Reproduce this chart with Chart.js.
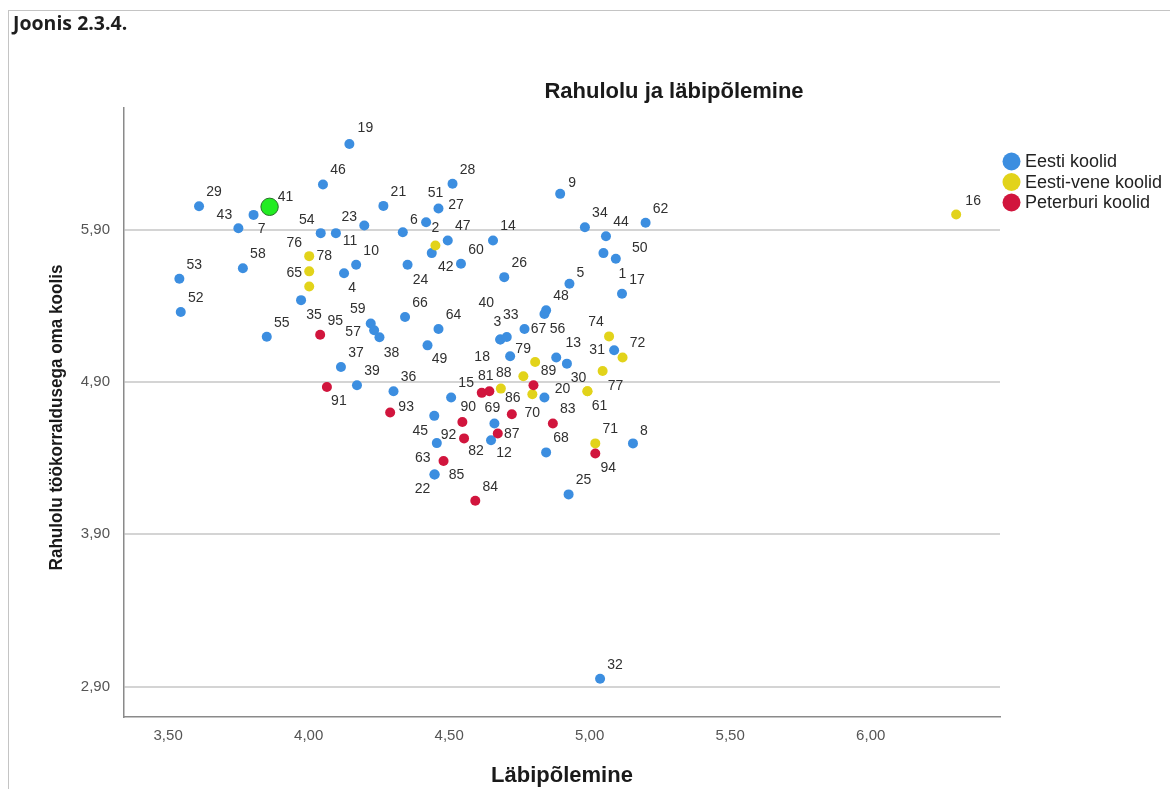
<!DOCTYPE html>
<html lang="et">
<head>
<meta charset="utf-8">
<title>Joonis 2.3.4.</title>
<script src="https://cdn.jsdelivr.net/npm/chart.js@4.4.1/dist/chart.umd.min.js"></script>
<style>
  html, body { margin: 0; padding: 0; background: #fff; }
  #wrap { position: relative; width: 1170px; height: 789px; overflow: hidden; background: #fff; }
  #frame { position: absolute; left: 8px; top: 10px; width: 1200px; height: 800px;
           border-top: 1px solid #c4c4c4; border-left: 1px solid #c4c4c4; }
  #caption { position: absolute; left: 13px; top: 9px; font: bold 19.5px "Open Sans", sans-serif; color: #1e1e1e; }
  #chart { position: absolute; left: 0; top: 0; }
</style>
</head>
<body>
<div id="wrap">
  <div id="frame"></div>
  <canvas id="chart" width="1170" height="789"></canvas>
  <div id="caption">Joonis 2.3.4.</div>
</div>
<script>
// --- andmed: Läbipõlemine (x) ja rahulolu töökorraldusega (y) ---
const estiId = ["19","46","29","7","43","54","11","23","21","6",
  "27","51","42","53","58","10","4","24","52","66",
  "55","35","59","57","38","64","49","37","39","36",
  "28","47","60","14","26","9","34","44","62","1",
  "50","17","5","48","56","3","40","33","67","18",
  "13","","31","15","20","69","45","12","68","8",
  "63","85","22","25","32"];
const estiX = [4.145,4.051,3.610,3.804,3.750,4.043,4.097,4.198,4.266,4.335,
  4.418,4.462,4.438,3.540,3.766,4.169,4.126,4.352,3.545,4.343,
  3.851,3.973,4.221,4.233,4.252,4.462,4.423,4.115,4.172,4.302,
  4.512,4.495,4.542,4.656,4.696,4.895,4.983,5.058,5.199,5.049,
  5.093,5.115,4.928,4.845,4.839,4.682,4.682,4.705,4.768,4.717,
  4.881,4.919,5.087,4.507,4.839,4.661,4.447,4.649,4.845,5.154,
  4.456,4.448,4.448,4.925,5.037];
const estiY = [6.464,6.197,6.055,5.998,5.910,5.878,5.878,5.928,6.057,5.884,
  5.950,6.040,5.747,5.579,5.648,5.670,5.615,5.670,5.360,5.327,
  5.198,5.438,5.284,5.240,5.194,5.248,5.141,4.999,4.879,4.840,
  6.202,5.830,5.677,5.830,5.589,6.136,5.917,5.858,5.946,5.747,
  5.710,5.480,5.546,5.371,5.347,5.179,5.179,5.196,5.248,5.069,
  5.061,5.021,5.109,4.798,4.798,4.628,4.678,4.518,4.438,4.497,
  4.499,4.293,4.293,4.162,2.951];

const veneId = ["2","76","65","78","88","","70","79","30","61","77","74","72","71","16"];
const veneX = [4.451,4.002,4.002,4.002,4.684,4.764,4.796,4.806,4.992,4.992,5.046,5.069,5.117,5.020,6.304];
const veneY = [5.797,5.727,5.627,5.528,4.857,4.938,4.820,5.032,4.840,4.840,4.973,5.200,5.061,4.497,6.000];

const peterId = ["95","91","93","81","","89","86","90","83","82","87","92","84","94"];
const peterX = [4.041,4.065,4.290,4.616,4.643,4.800,4.723,4.547,4.869,4.553,4.673,4.480,4.593,5.020];
const peterY = [5.211,4.868,4.700,4.829,4.840,4.879,4.689,4.638,4.628,4.530,4.562,4.381,4.120,4.431];

// esile tõstetud kool
const markId = ["41"];
const markX = [3.861];
const markY = [6.051];

const xTicks = [3.5, 4.0, 4.5, 5.0, 5.5, 6.0];
const yTicks = [2.9, 3.9, 4.9, 5.9];
const groupNames = ["Eesti koolid", "Eesti-vene koolid", "Peterburi koolid"];

// sildi nihe punktist (px), vaikimisi üles paremale
const labelShift = {
  "41":[16,-10], "7":[8,14], "43":[-14,-13], "54":[-14,-13], "11":[14,8], "23":[-15,-8],
  "6":[11,-12], "27":[30,-17], "51":[-3,-15], "42":[14,14], "4":[8,15], "24":[13,15],
  "35":[13,15], "59":[-13,-14], "57":[-21,2], "38":[12,16], "49":[12,14], "9":[12,-11],
  "1":[19,21], "50":[24,-11], "5":[11,-11], "56":[13,15], "3":[-3,-17], "40":[-14,-36],
  "33":[4,-22], "67":[14,0], "18":[-28,1], "13":[17,-14], "31":[-17,0], "20":[18,-8],
  "69":[-2,-15], "45":[-14,15], "63":[-14,15], "12":[13,13], "8":[11,-12], "85":[22,1],
  "22":[-12,15], "2":[0,-17], "76":[-15,-13], "65":[-15,2], "78":[15,-30], "88":[3,-15],
  "70":[0,19], "79":[-12,-13], "30":[-9,-13], "61":[12,15], "77":[13,15], "74":[-13,-14],
  "16":[17,-13], "91":[12,14], "93":[16,-5], "81":[4,-17], "86":[1,-16], "90":[6,-15],
  "82":[12,13], "87":[14,1], "92":[5,-26], "94":[13,15], "19":[16,-16]
};

const BLUE = "#3c8ee0", YELLOW = "#e2d31a", RED = "#d1153d";

const toPoints = (xs, ys) => xs.map((x, i) => ({ x: x, y: ys[i] }));
const comma = (v) => Number(v).toFixed(2).replace(".", ",");

const chartDecor = {
  id: "chartDecor",
  afterDatasetsDraw(chart) {
    const ctx = chart.ctx;
    ctx.save();
    ctx.font = "14px 'Liberation Sans', Arial, sans-serif";
    ctx.fillStyle = "#303030";
    ctx.textAlign = "center";
    ctx.textBaseline = "middle";
    chart.data.datasets.forEach((ds, i) => {
      const meta = chart.getDatasetMeta(i);
      meta.data.forEach((pt, j) => {
        const id = ds.ids[j];
        if (!id) return;
        const s = labelShift[id] || [15, -14];
        ctx.fillText(id, pt.x + s[0], pt.y + s[1]);
      });
    });
    ctx.restore();
  },
  afterDraw(chart) {
    const ctx = chart.ctx;
    const area = chart.chartArea;
    ctx.save();
    // pealkiri
    ctx.font = "bold 22px 'Liberation Sans', Arial, sans-serif";
    ctx.fillStyle = "#1a1a1a";
    ctx.textAlign = "center";
    ctx.textBaseline = "middle";
    ctx.fillText("Rahulolu ja läbipõlemine", 674, 92);
    // y-telje pealkiri (kitsam kiri nagu SPSS-is)
    ctx.save();
    ctx.translate(57, (area.top + area.bottom) / 2 + 5);
    ctx.rotate(-Math.PI / 2);
    ctx.scale(0.9, 1);
    ctx.font = "bold 19px 'Liberation Sans', Arial, sans-serif";
    ctx.fillText("Rahulolu töökorraldusega oma koolis", 0, 0);
    ctx.restore();
    // legend
    const cols = [BLUE, YELLOW, RED];
    ctx.font = "18px 'Liberation Sans', Arial, sans-serif";
    ctx.textAlign = "left";
    groupNames.forEach((name, k) => {
      const y = 161.5 + k * 20.5;
      ctx.beginPath();
      ctx.arc(1011.5, y, 9, 0, Math.PI * 2);
      ctx.fillStyle = cols[k];
      ctx.fill();
      ctx.fillStyle = "#222";
      ctx.fillText(name, 1025, y + 1);
    });
    ctx.restore();
  }
};

new Chart(document.getElementById("chart"), {
  type: "scatter",
  data: {
    datasets: [
      { label: "41", ids: markId, data: toPoints(markX, markY),
        backgroundColor: "#22ec22", borderColor: "#2b6e2b", borderWidth: 1, pointRadius: 8.7 },
      { label: groupNames[2], ids: peterId, data: toPoints(peterX, peterY),
        backgroundColor: RED, borderWidth: 0, pointRadius: 5 },
      { label: groupNames[1], ids: veneId, data: toPoints(veneX, veneY),
        backgroundColor: YELLOW, borderWidth: 0, pointRadius: 5 },
      { label: groupNames[0], ids: estiId, data: toPoints(estiX, estiY),
        backgroundColor: BLUE, borderWidth: 0, pointRadius: 5 }
    ]
  },
  options: {
    responsive: false,
    animation: false,
    devicePixelRatio: 1,
    layout: { padding: { top: 108, right: 170, left: 0, bottom: 0 } },
    plugins: { legend: { display: false }, tooltip: { enabled: false }, title: { display: false } },
    scales: {
      x: {
        type: "linear", min: 3.343, max: 6.46,
        afterBuildTicks: (s) => { s.ticks = xTicks.map((v) => ({ value: v })); },
        afterFit: (s) => { s.height = 72; },
        grid: { display: false },
        border: { display: true, color: "#8a8a8a", width: 1.5 },
        ticks: { padding: 2, color: "#555", font: { size: 15, family: "'Liberation Sans', Arial" }, callback: comma },
        title: { display: true, text: "Läbipõlemine", color: "#1a1a1a",
                 font: { size: 22, weight: "bold", family: "'Liberation Sans', Arial" }, padding: { top: 0, bottom: 0 } }
      },
      y: {
        type: "linear", min: 2.7, max: 6.7,
        afterBuildTicks: (s) => { s.ticks = yTicks.map((v) => ({ value: v })); },
        afterFit: (s) => { s.width = 124; },
        grid: { color: "#d4d4d4", lineWidth: 2, drawTicks: false },
        border: { display: true, color: "#8a8a8a", width: 1.5 },
        ticks: { padding: 14, color: "#555", font: { size: 15, family: "'Liberation Sans', Arial" }, callback: comma },
        title: { display: false }
      }
    }
  },
  plugins: [chartDecor]
});
</script>
</body>
</html>
